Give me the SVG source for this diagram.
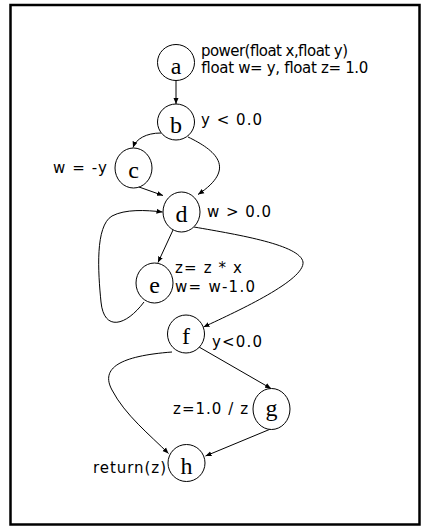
<svg xmlns="http://www.w3.org/2000/svg" width="422" height="526" viewBox="0 0 422 526">
<defs>
<marker id="arr" markerWidth="7" markerHeight="6" refX="6" refY="3" orient="auto" markerUnits="userSpaceOnUse">
<path d="M0,0.5 L6,3 L0,5.5 Z" fill="#000"/>
</marker>
<style>
.n ellipse{fill:#fff;stroke:#000;stroke-width:1}
.n text.l{font-family:"Liberation Serif","Times New Roman",serif;font-size:24px;text-anchor:middle;fill:#000}
.lab{font-family:"DejaVu Sans",Verdana,sans-serif;font-size:15px;fill:#000}
.e path,.e line{fill:none;stroke:#000;stroke-width:1;marker-end:url(#arr)}
</style>
</defs>
<rect x="0" y="0" width="422" height="526" fill="#fff"/>
<rect x="10.5" y="5" width="409" height="519.5" fill="none" stroke="#000" stroke-width="2.5"/>
<g id="edges" class="e">
<line x1="176" y1="80.5" x2="176" y2="104"/>
<path d="M161,133 C146,133 136,139 133,147.5"/>
<path d="M188,137 C215,150 238,168 198,194.5"/>
<line x1="139" y1="187" x2="163" y2="195.5"/>
<line x1="173" y1="230" x2="158" y2="262.5"/>
<path d="M144,302 C126,326 104,332 101,302 C98,272 95,226 112,216 C125,209 146,210 162.5,212"/>
<path d="M194,227 C240,235 300,245 303,262 C305,280 240,310 203.5,327"/>
<line x1="199" y1="347" x2="271" y2="388.5"/>
<path d="M172,352 C120,356 100,368 112,390 C125,415 150,435 168.5,453.5"/>
<line x1="273" y1="428" x2="205.5" y2="456"/>
</g>
<g id="node-a" class="n"><ellipse cx="176" cy="62.5" rx="18.5" ry="18"/><text class="l" x="176" y="74">a</text><text class="lab" x="201" y="55.5" textLength="147">power(float x,float y)</text><text class="lab" x="201" y="73" textLength="167">float w= y, float z= 1.0</text></g>
<g id="node-b" class="n"><ellipse cx="176" cy="122" rx="18.5" ry="18"/><text class="l" x="176" y="133">b</text><text class="lab" x="201" y="125" textLength="61">y &lt; 0.0</text></g>
<g id="node-c" class="n"><ellipse cx="133.5" cy="168" rx="18.5" ry="20"/><text class="l" x="133.5" y="178">c</text><text class="lab" x="53" y="173" textLength="54">w = -y</text></g>
<g id="node-d" class="n"><ellipse cx="181.5" cy="212" rx="18.5" ry="20"/><text class="l" x="181.5" y="222">d</text><text class="lab" x="207" y="217" textLength="64">w &gt; 0.0</text></g>
<g id="node-e" class="n"><ellipse cx="154.5" cy="283" rx="18.5" ry="20"/><text class="l" x="154.5" y="293">e</text><text class="lab" x="175" y="273" textLength="67">z= z * x</text><text class="lab" x="175" y="292" textLength="80">w= w-1.0</text></g>
<g id="node-f" class="n"><ellipse cx="186" cy="334" rx="18.5" ry="19"/><text class="l" x="186" y="344">f</text><text class="lab" x="212" y="347" textLength="50">y&lt;0.0</text></g>
<g id="node-g" class="n"><ellipse cx="271.5" cy="409" rx="18.5" ry="20.5"/><text class="l" x="271.5" y="416">g</text><text class="lab" x="173" y="414" textLength="75">z=1.0 / z</text></g>
<g id="node-h" class="n"><ellipse cx="186.5" cy="463" rx="18.5" ry="18.5"/><text class="l" x="186.5" y="474">h</text><text class="lab" x="93" y="473" textLength="73">return(z)</text></g>
</svg>
